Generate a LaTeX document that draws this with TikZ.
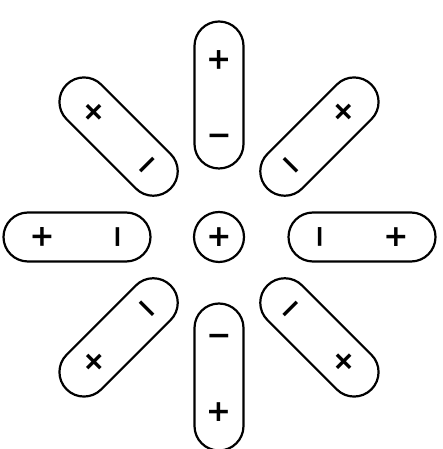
\documentclass[tikz,border=0pt]{standalone}
\usepackage{fontspec}
\newfontfamily\signfont{DejaVu Sans}[BoldFont=DejaVu Sans Bold]
\usetikzlibrary{shapes.misc}

\begin{document}
\begin{tikzpicture}[x=1pt,y=1pt,line width=2.2pt,
    dipole/.style={draw,rounded rectangle,minimum width=147pt,minimum height=49pt,inner sep=0pt},
    ionbox/.style={draw,circle,minimum size=50pt,inner sep=0pt},
    sign/.style={inner sep=0pt,font=\signfont\bfseries\fontsize{30}{30}\selectfont}]
  \useasboundingbox (0,0) rectangle (442,449);

  \begin{scope}[shift={(219,212)}]
    % Central ion
    \node[ionbox] (ion) at (0,0) {};
    \node[sign] (ionplus) at (ion) {+};

    % Upper dipole
    \node[dipole,rotate=90] (up) at (90:142) {};
    \node[sign,rotate=90] (upplus) at (90:177) {+};
    \node[sign,rotate=180] (upminus) at (90:105) {−};

    % Upper left dipole
    \node[dipole,rotate=135] (upleft) at (135:142) {};
    \node[sign,rotate=135] (upleftplus) at (135:177) {+};
    \node[sign,rotate=225] (upleftminus) at (135:105) {−};

    % Left dipole
    \node[dipole,rotate=180] (left) at (180:142) {};
    \node[sign,rotate=180] (leftplus) at (180:177) {+};
    \node[sign,rotate=270] (leftminus) at (180:105) {−};

    % Lower left dipole
    \node[dipole,rotate=225] (lowleft) at (225:142) {};
    \node[sign,rotate=225] (lowleftplus) at (225:177) {+};
    \node[sign,rotate=315] (lowleftminus) at (225:105) {−};

    % Lower dipole
    \node[dipole,rotate=270] (low) at (270:140) {};
    \node[sign,rotate=270] (lowplus) at (270:175) {+};
    \node[sign,rotate=0] (lowminus) at (270:103) {−};

    % Lower right dipole
    \node[dipole,rotate=315] (lowright) at (315:142) {};
    \node[sign,rotate=315] (lowrightplus) at (315:177) {+};
    \node[sign,rotate=45] (lowrightminus) at (315:105) {−};

    % Right dipole
    \node[dipole,rotate=0] (right) at (0:143) {};
    \node[sign,rotate=0] (rightplus) at (0:177) {+};
    \node[sign,rotate=90] (rightminus) at (0:105) {−};

    % Upper right dipole
    \node[dipole,rotate=45] (upright) at (45:142) {};
    \node[sign,rotate=45] (uprightplus) at (45:177) {+};
    \node[sign,rotate=135] (uprightminus) at (45:105) {−};
  \end{scope}
\end{tikzpicture}
\end{document}
